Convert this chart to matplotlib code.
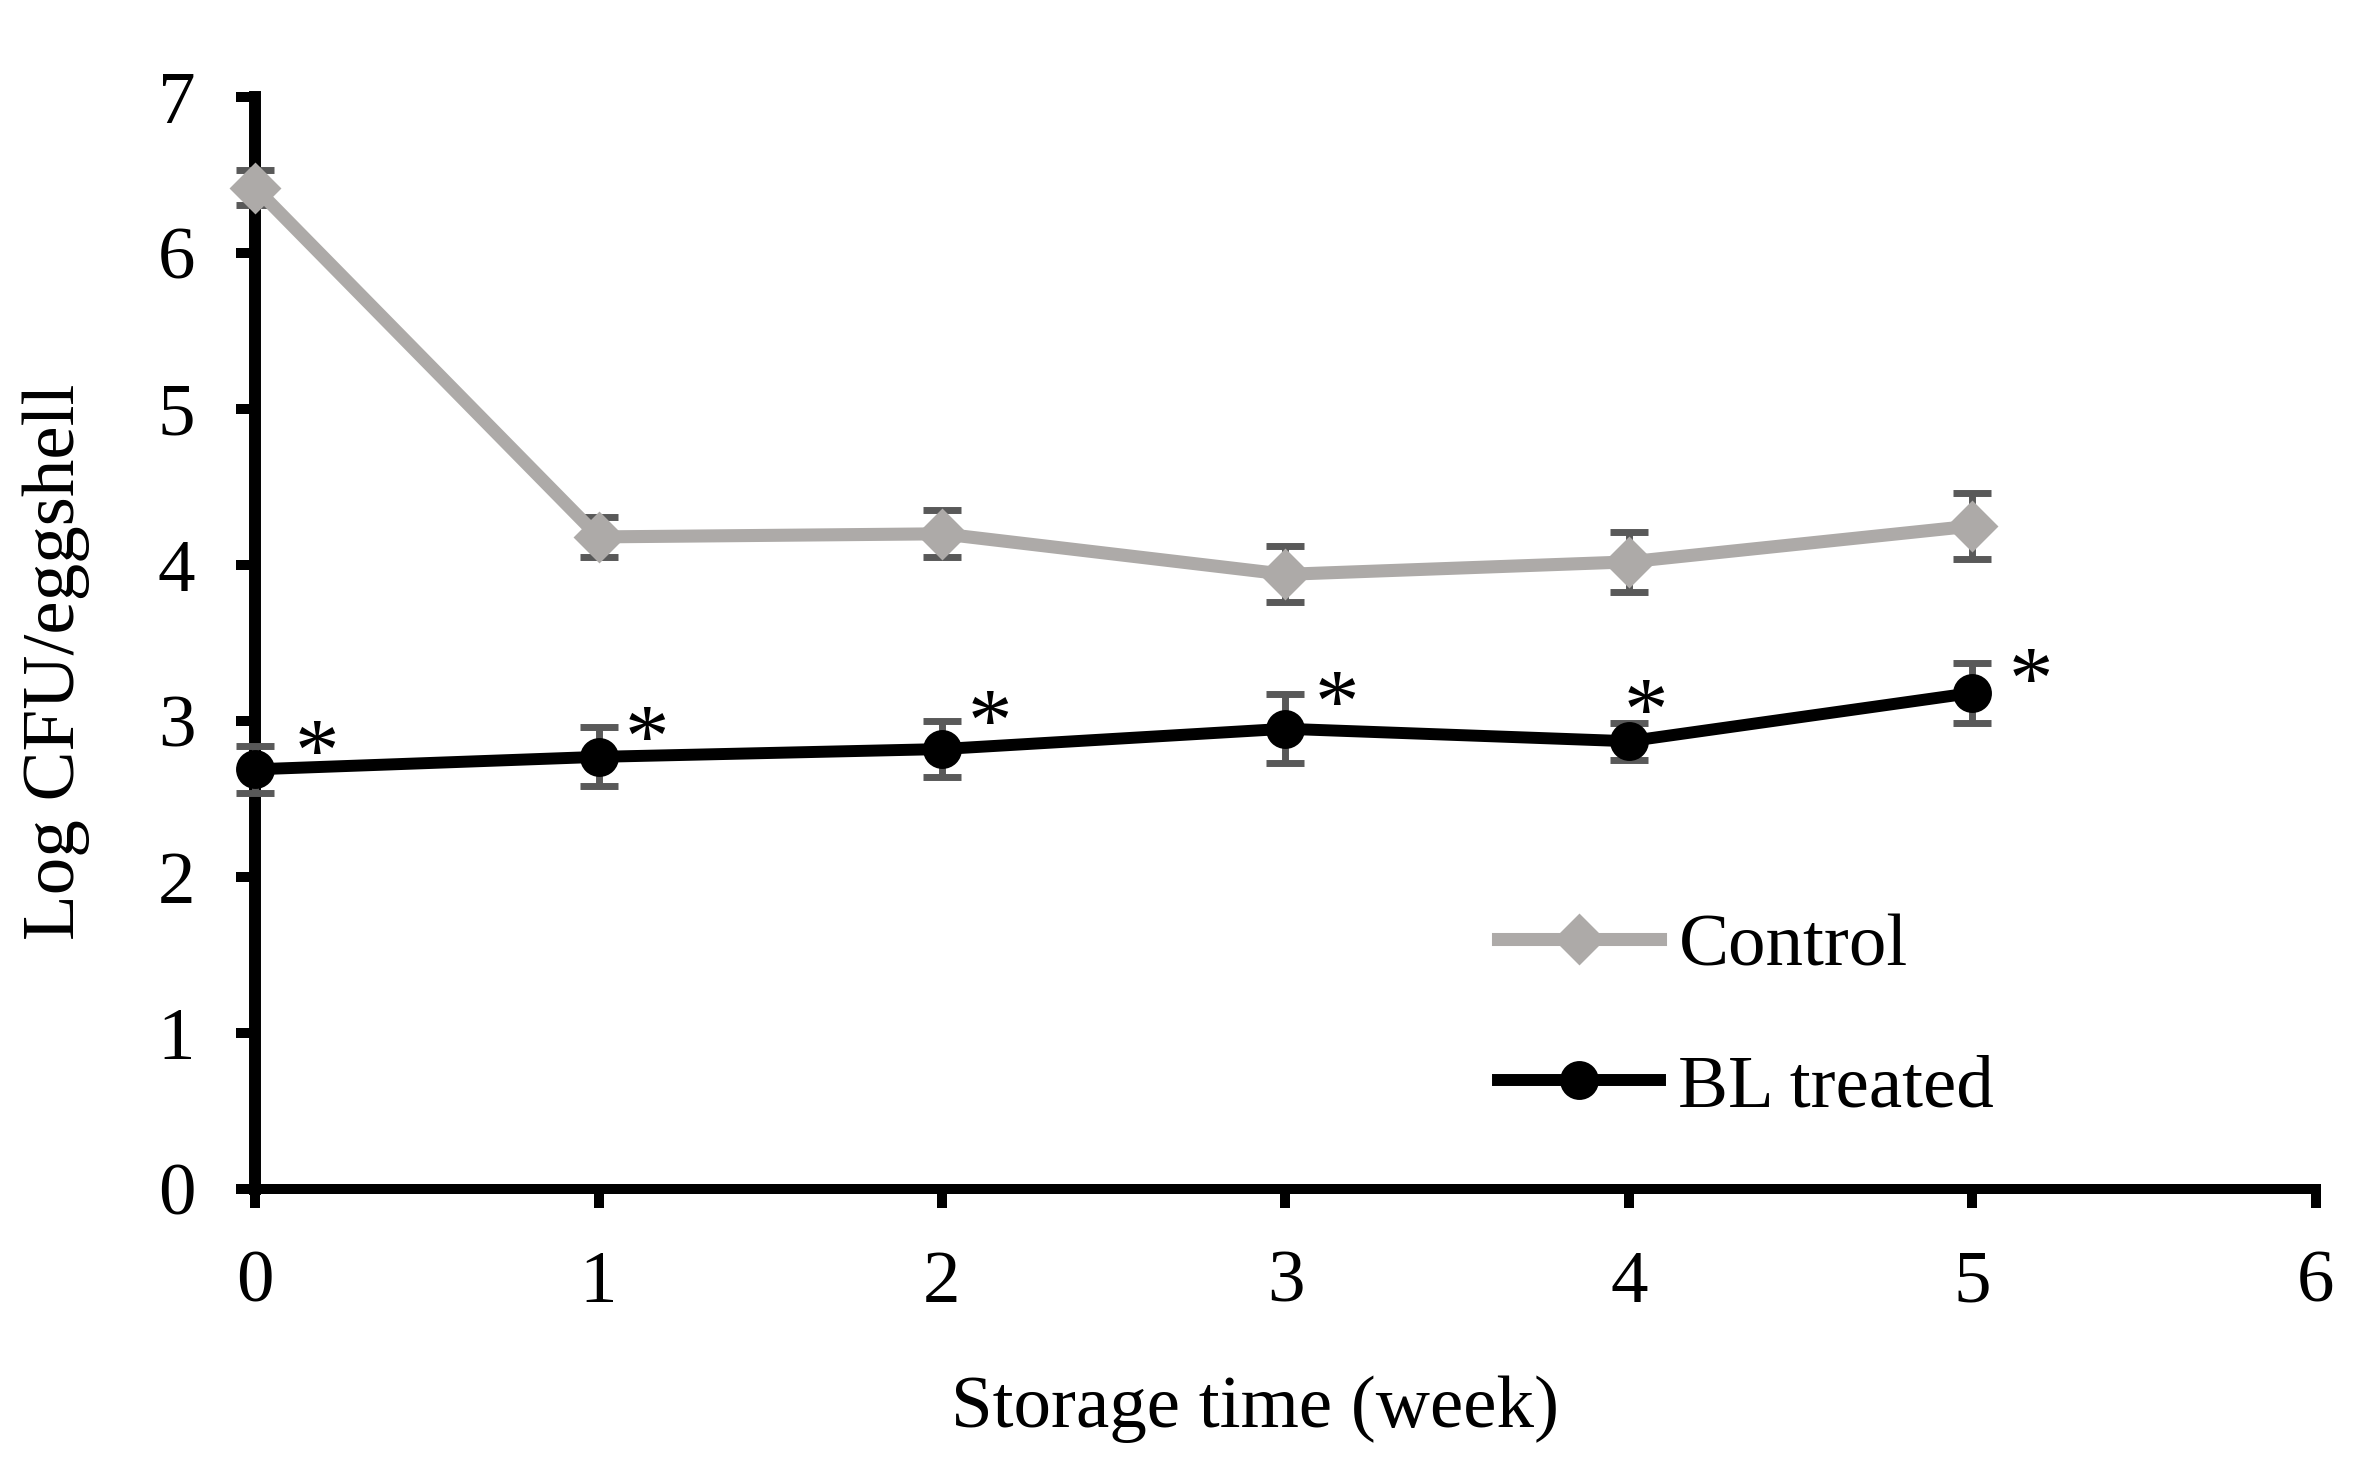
import numpy as np
import matplotlib
matplotlib.use("Agg")
import matplotlib.pyplot as plt

weeks = [0, 1, 2, 3, 4, 5]
control = [6.42, 4.18, 4.20, 3.94, 4.02, 4.25]
control_err = [0.11, 0.13, 0.15, 0.18, 0.19, 0.21]
bl = [2.69, 2.77, 2.82, 2.95, 2.87, 3.18]
bl_err = [0.15, 0.19, 0.18, 0.22, 0.12, 0.19]

# significance marks (*), centre of each star
star_x = [0.18, 1.14, 2.14, 3.15, 4.05, 5.17]
star_y = [2.93, 3.02, 3.12, 3.24, 3.19, 3.39]

plt.rcParams["font.family"] = ["Liberation Serif", "DejaVu Serif"]
fs = 27

fig = plt.figure(figsize=(11.84, 7.33), dpi=200)
ax = fig.add_axes([0.1077, 0.189, 0.978 - 0.1077, 0.9338 - 0.189])

ax.errorbar(weeks, control, yerr=control_err, fmt="none", ecolor="#595959",
            elinewidth=2.5, capsize=7, capthick=2.5, zorder=3, clip_on=False)
ax.errorbar(weeks, bl, yerr=bl_err, fmt="none", ecolor="#595959",
            elinewidth=2.5, capsize=7, capthick=2.5, zorder=3, clip_on=False)

ax.plot(weeks, control, color="#ADAAA8", lw=4.7, marker="D", ms=12.2,
        mec="#ADAAA8", mew=1, label="Control", zorder=4, clip_on=False)
ax.plot(weeks, bl, color="black", lw=4.3, marker="o", ms=14,
        mec="black", mew=0, label="BL treated", zorder=4, clip_on=False)

for sx, sy in zip(star_x, star_y):
    ax.text(sx, sy - 0.30, "*", fontsize=32, ha="center", va="baseline")

ax.set_xlim(0, 6)
ax.set_ylim(0, 7)
ax.set_xticks(range(0, 7))
ax.set_yticks(range(0, 8))

ax.spines["top"].set_visible(False)
ax.spines["right"].set_visible(False)
ax.spines["left"].set_linewidth(4.3)
ax.spines["bottom"].set_linewidth(3.6)
ax.tick_params(axis="both", direction="out", length=7, width=3.6,
               labelsize=fs)
ax.tick_params(axis="x", pad=15)
ax.tick_params(axis="y", pad=14.5)

ax.set_xlabel("Storage time (week)", fontsize=fs)
ax.set_ylabel("Log CFU/eggshell", fontsize=fs)
ax.xaxis.set_label_coords(0.485, -0.171)
ax.yaxis.set_label_coords(-0.08, 0.483)

ax.legend(loc="center left", bbox_to_anchor=(0.603, 0.157), frameon=False,
          fontsize=fs, handlelength=2.17, handletextpad=0.24,
          labelspacing=0.97, borderpad=0, borderaxespad=0)

plt.savefig("out.png", dpi=200)
